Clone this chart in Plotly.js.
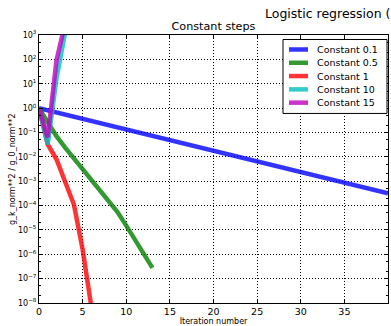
<!DOCTYPE html>
<html><head><meta charset="utf-8">
<script src="https://cdn.plot.ly/plotly-3.0.1.min.js"></script>
<style>html,body{margin:0;padding:0;background:#fff;}#chart{width:391px;height:326px;}</style>
</head><body><div id="chart"></div>
<script>
const seriesNames = ["Constant 0.1", "Constant 0.5", "Constant 1", "Constant 10", "Constant 15"];
const xBlue = [0,1,2,3,4,5,6,7,8,9,10,11,12,13,14,15,16,17,18,19,20,21,22,23,24,25,26,27,28,29,30,31,32,33,34,35,36,37,38,39,40];
const yBlue = [1.0,0.818,0.668,0.546,0.447,0.365,0.299,0.244,0.200,0.163,0.133,0.109,0.0891,0.0729,0.0596,0.0487,0.0398,0.0326,0.0266,0.0218,0.0178,0.0145,0.0119,0.00972,0.00794,0.00649,0.00531,0.00434,0.00355,0.00290,0.00237,0.00194,0.00158,0.00130,0.00106,0.000866,0.000708,0.000579,0.000473,0.000387,0.000316];
const xGreen = [0,1,2,3,4,5,6,7,8,9,10,11,12,13];
const yGreen = [1.0,0.24,0.0708,0.024,0.0087,0.0033,0.00126,4.7e-4,1.66e-4,5.4e-5,1.5e-5,4.2e-6,1.07e-6,2.75e-7];
const xRed = [0,1,2,3,4,5,6];
const yRed = [1.0,0.032,0.0079,1.0e-3,1.1e-4,1.6e-6,7e-9];
const xCyan = [0,1,2,3,4];
const yCyan = [1.0,0.032,15.8,1260,1e5];
const xMagenta = [0,1,2,3,4];
const yMagenta = [1.0,0.063,89,3160,1e6];
const yTickVals = [1e-8,1e-7,1e-6,1e-5,1e-4,1e-3,1e-2,1e-1,1e0,1e1,1e2,1e3];
const yTickText = ["10<sup>−8</sup>","10<sup>−7</sup>","10<sup>−6</sup>","10<sup>−5</sup>","10<sup>−4</sup>","10<sup>−3</sup>","10<sup>−2</sup>","10<sup>−1</sup>","10<sup>0</sup>","10<sup>1</sup>","10<sup>2</sup>","10<sup>3</sup>"];
const colors = ["rgba(0,0,255,0.8)","rgba(0,128,0,0.8)","rgba(255,0,0,0.8)","rgba(0,191,191,0.8)","rgba(191,0,191,0.8)"];

const xs = [xBlue,xGreen,xRed,xCyan,xMagenta];
const ys = [yBlue,yGreen,yRed,yCyan,yMagenta];
const data = seriesNames.map((n,i)=>({x:xs[i],y:ys[i],name:n,type:'scatter',mode:'lines',showlegend:false,
  line:{color:colors[i],width:4.5}}));

const font = "DejaVu Sans, sans-serif";
// pixel -> paper helpers (plot area 39..388 x, 34.5..302.7 y)
const PL=39, PR=388, PT=34.5, PB=302.7;
const px = v => (v-PL)/(PR-PL);
const py = v => (PB-v)/(PB-PT);

const shapes = [{type:'rect',xref:'paper',yref:'paper',x0:px(283),x1:px(387),y0:py(39),y1:py(113),
  line:{color:'black',width:1},fillcolor:'white',layer:'above'}];
const annotations = [];
seriesNames.forEach((n,i)=>{
  const yy = 49 + i*13.3;
  shapes.push({type:'line',xref:'paper',yref:'paper',x0:px(289),x1:px(308),y0:py(yy),y1:py(yy),
    line:{color:colors[i],width:4.5},layer:'above'});
  annotations.push({text:n,xref:'paper',yref:'paper',x:px(315),y:py(yy),xanchor:'left',yanchor:'middle',
    showarrow:false,font:{family:font,size:9.5,color:'black'}});
});
annotations.push({text:'Logistic regression (',xref:'paper',yref:'paper',x:px(263),y:py(13),
  xanchor:'left',yanchor:'middle',showarrow:false,font:{family:font,size:12.5,color:'black'}});
annotations.push({text:'g_k_norm**2 / g_0_norm**2',xref:'paper',yref:'paper',x:px(12),y:0.5,textangle:-90,
  xanchor:'center',yanchor:'middle',showarrow:false,font:{family:font,size:8,color:'black'}});

const axisCommon = {showline:true,linecolor:'black',linewidth:1,mirror:'allticks',ticks:'inside',ticklen:4,
  tickcolor:'black',showgrid:true,gridcolor:'black',griddash:'1px,2px',gridwidth:1,zeroline:false,
  tickfont:{family:font,size:9.5,color:'black'}};
const layout = {
  width:391,height:326,margin:{l:39,r:3,t:34.5,b:23.3},paper_bgcolor:'white',plot_bgcolor:'white',
  font:{family:font,color:'black'},
  title:{text:'Constant steps',font:{family:font,size:11.2,color:'black'},x:0.5,xref:'paper',xanchor:'center',y:1-26/326,yref:'container',yanchor:'middle'},
  xaxis:Object.assign({},axisCommon,{range:[0,40],dtick:5,tick0:0,
    title:{text:'Iteration number',font:{family:font,size:8},standoff:3}}),
  yaxis:Object.assign({},axisCommon,{type:'log',range:[-8,3],tickmode:'array',tickvals:yTickVals,ticktext:yTickText,
    tickfont:{family:font,size:8,color:'black'},
    minor:{ticks:'inside',ticklen:2,tickcolor:'black',showgrid:false}}),
  shapes:shapes,
  annotations:annotations
};
Plotly.newPlot('chart',data,layout,{staticPlot:true});
</script></body></html>
